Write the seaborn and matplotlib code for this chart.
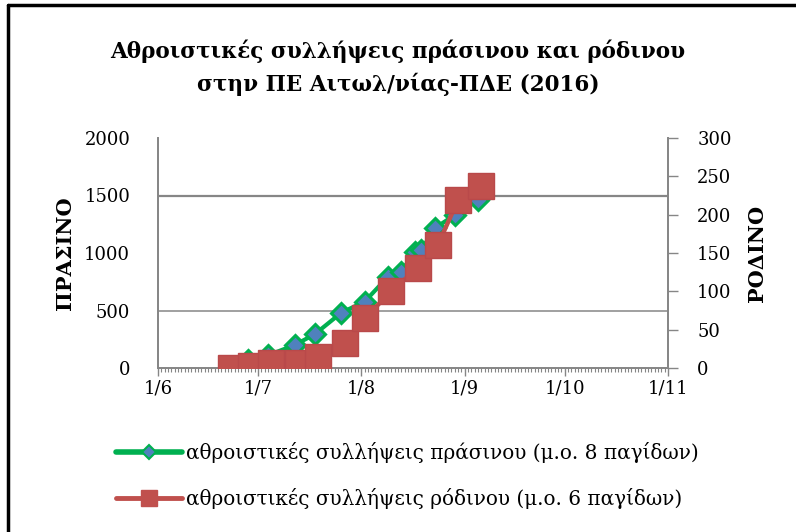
import matplotlib
matplotlib.use("Agg")
import matplotlib.pyplot as plt
import matplotlib.dates as mdates
import seaborn as sns
import pandas as pd
import numpy as np
from matplotlib.lines import Line2D

# ---- data ----
green_dates = ["2016-06-23", "2016-06-28", "2016-07-04", "2016-07-12", "2016-07-18",
               "2016-07-26", "2016-08-02", "2016-08-09", "2016-08-13", "2016-08-17",
               "2016-08-19", "2016-08-23", "2016-08-29", "2016-09-05"]
green_values = [10, 70, 110, 200, 293, 481, 577, 794, 837, 1011, 1026, 1215, 1330, 1461]

red_dates = ["2016-06-23", "2016-06-29", "2016-07-05", "2016-07-13", "2016-07-19",
             "2016-07-27", "2016-08-02", "2016-08-10", "2016-08-18", "2016-08-24",
             "2016-08-30", "2016-09-06"]
red_values = [0, 2, 6, 7, 15, 32, 65, 100, 131, 161, 219, 238]

x_tick_labels = ["1/6", "1/7", "1/8", "1/9", "1/10", "1/11"]
x_tick_dates = ["2016-06-01", "2016-07-01", "2016-08-01", "2016-09-01", "2016-10-01", "2016-11-01"]
left_ticks = [0, 500, 1000, 1500, 2000]
right_ticks = [0, 50, 100, 150, 200, 250, 300]

title = "Αθροιστικές συλλήψεις πράσινου και ρόδινου\nστην ΠΕ Αιτωλ/νίας-ΠΔΕ (2016)"
left_label = "ΠΡΑΣΙΝΟ"
right_label = "ΡΟΔΙΝΟ"
green_name = "αθροιστικές συλλήψεις πράσινου (μ.ο. 8 παγίδων)"
red_name = "αθροιστικές συλλήψεις ρόδινου (μ.ο. 6 παγίδων)"

green_df = pd.DataFrame({"date": pd.to_datetime(green_dates), "value": green_values})
red_df = pd.DataFrame({"date": pd.to_datetime(red_dates), "value": red_values})

sns.set_theme(style="white")
plt.rcParams["font.family"] = ["DejaVu Serif"]
plt.rcParams["text.color"] = "black"
plt.rcParams["axes.labelcolor"] = "black"
plt.rcParams["xtick.color"] = "black"
plt.rcParams["ytick.color"] = "black"

GREEN = "#00B050"
BLUE = "#4F81BD"
RED = "#C0504D"
GRAY = "#868686"

fig = plt.figure(figsize=(7.96, 5.32), dpi=100)
ax = fig.add_axes([158/796, 1-368/532, (668-158)/796, (368-138)/532])
ax2 = ax.twinx()

sns.lineplot(data=green_df, x="date", y="value", ax=ax, color=GREEN, lw=3.0,
             marker="D", markersize=10.5, markerfacecolor=BLUE, markeredgecolor=GREEN,
             markeredgewidth=2.2, zorder=3)
sns.lineplot(data=red_df, x="date", y="value", ax=ax2, color=RED, lw=3.2,
             marker="s", markersize=19, markerfacecolor=RED, markeredgecolor="#B9494A",
             markeredgewidth=1.0, zorder=3)

x0, x1 = pd.Timestamp("2016-06-01"), pd.Timestamp("2016-11-01")
ax.set_xlim(x0, x1)
ax.set_ylim(0, 2000)
ax2.set_ylim(0, 300)

ax.set_xticks(pd.to_datetime(x_tick_dates))
ax.set_xticklabels(x_tick_labels)
ax.xaxis.set_minor_locator(mdates.DayLocator())
ax.set_yticks(left_ticks)
ax.set_yticklabels([str(v) for v in left_ticks])
ax2.set_yticks(right_ticks)
ax2.set_yticklabels([str(v) for v in right_ticks])

for a in (ax, ax2):
    a.set_xlabel("")
    a.set_ylabel("")
    a.grid(False)
    for s in a.spines.values():
        s.set_color(GRAY)
        s.set_linewidth(1.3)
    a.spines["top"].set_visible(False)

ax.axhline(500, color=GRAY, lw=1.1, zorder=1)
ax.axhline(1500, color=GRAY, lw=1.6, zorder=1)

ax.tick_params(axis="x", which="major", direction="out", length=6, width=1, color=GRAY,
               labelsize=13, pad=2, bottom=True)
ax.tick_params(axis="x", which="minor", direction="out", length=3, width=0.8, color=GRAY, bottom=True)
ax.tick_params(axis="y", length=0, labelsize=13, pad=20)
ax2.tick_params(axis="y", direction="out", length=7, width=1, color=GRAY, labelsize=13, pad=14, right=True)

ax.set_ylabel(left_label, fontsize=15, fontweight="bold", labelpad=7)
fig.text(757/796, 1-253/532, right_label, rotation=90, ha="center", va="center",
         fontsize=15, fontweight="bold")

fig.text(0.5, 1-68/532, title, ha="center", va="center", fontsize=15.5,
         fontweight="bold", linespacing=1.55)

handles = [Line2D([], [], color=GREEN, lw=4, marker="D", markersize=7, markerfacecolor=BLUE,
                  markeredgecolor=GREEN, markeredgewidth=1.5),
           Line2D([], [], color=RED, lw=3.5, marker="s", markersize=11, markerfacecolor=RED,
                  markeredgecolor=RED)]
fig.legend(handles, [green_name, red_name], loc="upper left",
           bbox_to_anchor=(116/796, 1-442/532), frameon=False, fontsize=14.4,
           handlelength=3.3, handletextpad=0.2, labelspacing=1.25, borderaxespad=0,
           borderpad=0)

# outer chart frame (left and top edges visible)
fig.add_artist(Line2D([8/796, 8/796], [0, 1-5/532], color="black", lw=2.5, transform=fig.transFigure))
fig.add_artist(Line2D([8/796, 1], [1-5/532, 1-5/532], color="black", lw=2.5, transform=fig.transFigure))

fig.savefig("out.png", dpi=100)
